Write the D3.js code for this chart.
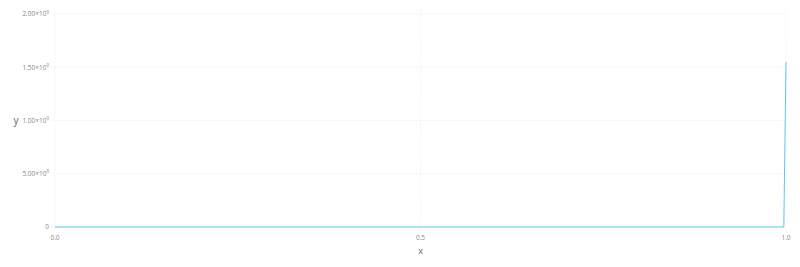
<!DOCTYPE html>
<html>
<head>
<meta charset="utf-8">
<script src="https://cdn.jsdelivr.net/npm/d3@7"></script>
<style>
  body { margin: 0; background: #fff; }
  text { font-family: "Open Sans", "DejaVu Sans", sans-serif; }
</style>
</head>
<body>
<svg id="chart"></svg>
<script>
// data
const xs = [0.0, 0.25, 0.5, 0.75, 0.99, 0.997, 1.0];
const ys = [0, 0, 0, 0, 0, 0, 1.55e9];
const xTicks = [0.0, 0.5, 1.0];
const xTickLabels = ["0.0", "0.5", "1.0"];
const yTicks = [0, 5e8, 1e9, 1.5e9, 2e9];
const yTickMant = ["0", "5.00", "1.00", "1.50", "2.00"];
const yTickExp = ["", "8", "9", "9", "9"];

const W = 800, H = 267;
const margin = { top: 14, right: 14, bottom: 40, left: 55 };

const svg = d3.select("#chart").attr("width", W).attr("height", H);

const x = d3.scaleLinear().domain([0, 1]).range([margin.left, W - margin.right]);
const y = d3.scaleLinear().domain([0, 2e9]).range([H - margin.bottom, margin.top]);

const gridColor = "#D8D8E4";
const labelColor = "#8a8a8a";

// horizontal grid
svg.append("g").selectAll("line")
    .data(yTicks)
    .join("line")
    .attr("x1", margin.left - 4)
    .attr("x2", W - margin.right)
    .attr("y1", d => y(d))
    .attr("y2", d => y(d))
    .attr("stroke", gridColor)
    .attr("stroke-width", 0.5)
    .attr("stroke-dasharray", "1,1.5");

// vertical grid
svg.append("g").selectAll("line")
    .data(xTicks)
    .join("line")
    .attr("x1", d => x(d))
    .attr("x2", d => x(d))
    .attr("y1", margin.top - 4)
    .attr("y2", H - margin.bottom + 4)
    .attr("stroke", gridColor)
    .attr("stroke-width", 0.5)
    .attr("stroke-dasharray", "1,1.5");

// y tick labels
const yl = svg.append("g").selectAll("text")
    .data(yTicks)
    .join("text")
    .attr("x", margin.left - 6)
    .attr("y", d => y(d))
    .attr("dy", "0.35em")
    .attr("text-anchor", "end")
    .attr("fill", labelColor)
    .attr("font-size", 6.5);
yl.each(function(d, i) {
    const t = d3.select(this);
    if (yTickExp[i] === "") {
        t.text(yTickMant[i]);
    } else {
        t.append("tspan").text(yTickMant[i] + "\u00d710");
        t.append("tspan").attr("dy", "-0.6em").attr("font-size", 4.5).text(yTickExp[i]);
    }
});

// x tick labels
svg.append("g").selectAll("text")
    .data(xTicks)
    .join("text")
    .attr("x", d => x(d))
    .attr("y", H - margin.bottom + 13)
    .attr("text-anchor", "middle")
    .attr("fill", labelColor)
    .attr("font-size", 6.5)
    .text((d, i) => xTickLabels[i]);

// axis titles
svg.append("text")
    .attr("x", (margin.left + W - margin.right) / 2)
    .attr("y", H - 13)
    .attr("text-anchor", "middle")
    .attr("fill", "#666")
    .attr("font-size", 9)
    .text("x");

svg.append("text")
    .attr("x", 16)
    .attr("y", y(1e9))
    .attr("dy", "0.35em")
    .attr("text-anchor", "middle")
    .attr("fill", "#666")
    .attr("font-size", 10)
    .text("y");

// line
const line = d3.line()
    .x((d, i) => x(xs[i]))
    .y(d => y(d));

svg.append("path")
    .datum(ys)
    .attr("d", line)
    .attr("fill", "none")
    .attr("stroke", "#5CC6F0")
    .attr("stroke-width", 1);
</script>
</body>
</html>
